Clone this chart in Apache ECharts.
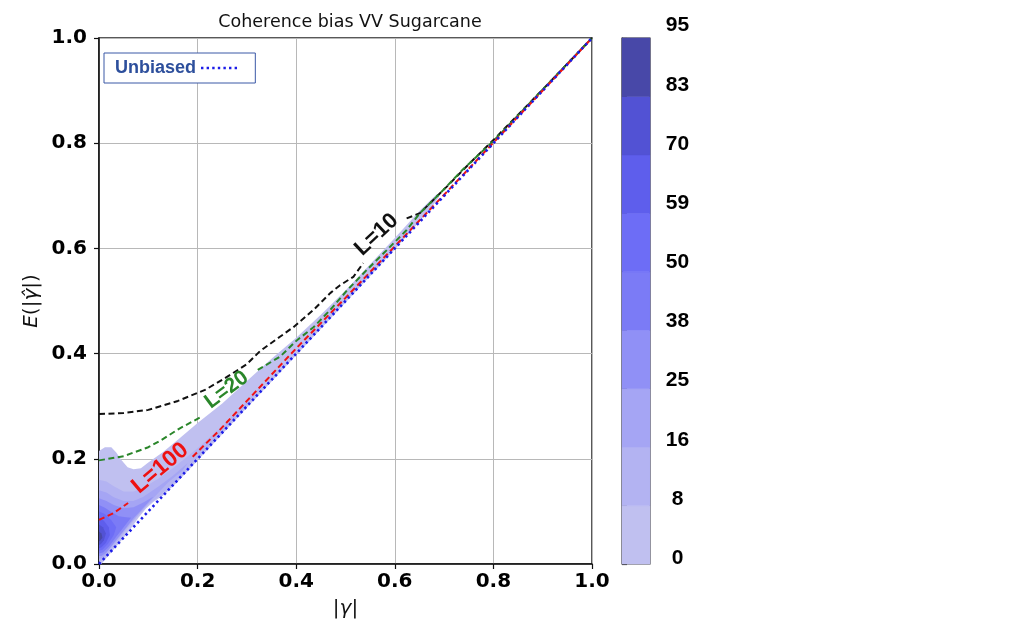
<!DOCTYPE html>
<html>
<head>
<meta charset="utf-8">
<script src="https://cdn.jsdelivr.net/npm/echarts@6/dist/echarts.min.js"></script>
<style>
html,body{margin:0;padding:0;background:#fff;}
#chart{width:1015px;height:624px;}
</style>
</head>
<body>
<div id="chart"></div>
<script>
// ---------- data ----------
var xTickLabels = ['0.0','0.2','0.4','0.6','0.8','1.0'];
var yTickLabels = ['0.0','0.2','0.4','0.6','0.8','1.0'];
var cbTickLabels = ['0','8','16','25','38','50','59','70','83','95'];
var cbColors = ['#c0c0f0','#b3b3f2','#a5a5f4','#9090f6','#7b7bf6','#6d6df6','#5e5eec','#5252d4','#4848a8'];

var unbiasedX = [0, 1];
var unbiasedY = [0, 1];

var l10X = [0,0.05,0.1,0.16,0.215,0.25,0.3,0.327,0.367,0.394,0.435,0.469,0.489,0.516,0.536,0.545,0.624,0.651,0.705,0.75,0.8,0.9,1.0];
var l10Y = [0.285,0.287,0.293,0.31,0.331,0.35,0.38,0.405,0.432,0.45,0.483,0.515,0.53,0.546,0.572,null,0.657,0.667,0.717,0.76,0.806,0.902,1.0];

var l20X = [0,0.05,0.1,0.127,0.164,0.208,0.26,0.322,0.367,0.401,0.435,0.469,0.503,0.543,0.584,0.624,0.651,0.692,0.738,0.8,0.9,1.0];
var l20Y = [0.197,0.205,0.222,0.236,0.258,0.28,null,0.369,0.394,0.425,0.45,0.483,0.52,0.559,0.597,0.635,0.667,0.705,0.75,0.804,0.902,1.0];

var l100X = [0,0.03,0.059,0.12,0.19,0.245,0.3,0.35,0.4,0.5,0.6,0.7,0.8,0.9,1.0];
var l100Y = [0.084,0.097,0.116,null,0.204,0.255,0.31,0.36,0.41,0.506,0.604,0.702,0.801,0.9,1.0];

var annText  = ['L=10','L=20','L=100'];
var annX     = [0.563, 0.259, 0.124];
var annY     = [0.626, 0.331, 0.182];

// density contour regions (data coordinates), lowest level first
var contourPolygons = [
 [[0,0],[0,0.215],[0.012,0.222],[0.025,0.222],[0.035,0.212],[0.045,0.198],[0.058,0.184],[0.07,0.18],[0.085,0.182],[0.1,0.193],[0.13,0.213],[0.16,0.236],[0.2,0.268],[0.25,0.305],[0.3,0.348],[0.35,0.39],[0.4,0.43],[0.45,0.474],[0.5,0.52],[0.55,0.57],[0.6,0.62],[0.65,0.671],[0.685,0.703],[0.69,0.698],[0.67,0.672],[0.6,0.598],[0.5,0.497],[0.4,0.397],[0.3,0.297],[0.2,0.197],[0.16,0.157],[0.13,0.13],[0.11,0.118],[0.095,0.105],[0.08,0.088],[0.065,0.068],[0.05,0.05],[0.03,0.028],[0.012,0.008],[0.005,0]],
 [[0,0.005],[0,0.16],[0.015,0.157],[0.03,0.148],[0.05,0.138],[0.07,0.138],[0.09,0.145],[0.12,0.162],[0.15,0.182],[0.2,0.22],[0.25,0.262],[0.3,0.31],[0.34,0.35],[0.3,0.302],[0.2,0.202],[0.15,0.153],[0.12,0.127],[0.1,0.113],[0.08,0.093],[0.06,0.07],[0.04,0.046],[0.02,0.022],[0.008,0.007]],
 [[0,0.01],[0,0.14],[0.015,0.136],[0.03,0.127],[0.05,0.12],[0.07,0.12],[0.09,0.128],[0.12,0.147],[0.15,0.168],[0.18,0.192],[0.17,0.178],[0.14,0.155],[0.11,0.125],[0.085,0.1],[0.06,0.073],[0.04,0.05],[0.02,0.027],[0.008,0.012]],
 [[0,0.015],[0,0.125],[0.015,0.12],[0.03,0.112],[0.05,0.106],[0.07,0.108],[0.09,0.117],[0.11,0.128],[0.09,0.107],[0.07,0.087],[0.05,0.063],[0.03,0.04],[0.015,0.022],[0.005,0.015]],
 [[0,0.02],[0,0.112],[0.012,0.107],[0.025,0.099],[0.04,0.091],[0.055,0.089],[0.065,0.088],[0.05,0.07],[0.035,0.052],[0.02,0.033],[0.008,0.022]],
 [[0,0.025],[0,0.1],[0.012,0.095],[0.025,0.083],[0.035,0.07],[0.03,0.055],[0.018,0.038],[0.007,0.027]],
 [[0,0.03],[0,0.088],[0.01,0.082],[0.02,0.07],[0.022,0.055],[0.014,0.04],[0.005,0.032]],
 [[0,0.036],[0,0.075],[0.008,0.07],[0.014,0.058],[0.01,0.045],[0.004,0.038]],
 [[0,0.043],[0,0.062],[0.005,0.058],[0.007,0.05],[0.003,0.045]]
];

// ---------- chart ----------
function zip(xs, ys){ return xs.map(function(x,i){ return [x, ys[i]===null ? '-' : ys[i]]; }); }

var chart = echarts.init(document.getElementById('chart'), null, {renderer:'canvas'});
var tickFont = {fontFamily:'DejaVu Sans', fontWeight:'bold', fontSize:20, color:'#000'};
var annColors = ['#111111','#2a862a','#ee1111'];
var annRot = [43, 37, 40];
var annSize = [22, 21, 23];

var option = {
  animation:false,
  backgroundColor:'#ffffff',
  title:{
    text:'Coherence bias VV Sugarcane',
    left:345, top:8, textAlign:'center',
    textStyle:{fontFamily:'DejaVu Sans', fontWeight:'normal', fontSize:17.5, color:'#111'}
  },
  legend:{
    data:[{name:'Unbiased', itemStyle:{opacity:0}}],
    left:104, top:53,
    align:'right',
    orient:'horizontal',
    padding:[6,17,6,11],
    borderColor:'#3a58a6', borderWidth:1, borderRadius:0,
    backgroundColor:'#fff',
    itemWidth:36, itemHeight:16,
    itemStyle:{opacity:0},
    lineStyle:{width:2.6},
    textStyle:{fontFamily:'Liberation Sans', fontWeight:'bold', fontSize:18, color:'#2d4f9c'},
    selectedMode:false
  },
  grid:[
    {left:99, top:38, width:493, height:526, show:true, borderColor:'#222', borderWidth:1.5, backgroundColor:'transparent'},
    {left:622, top:38, width:28, height:526, show:true, borderColor:'#333', borderWidth:1.2, backgroundColor:'transparent'},
    {left:622, top:25.7, width:28, height:532.3, show:false}
  ],
  xAxis:[
    {gridIndex:0, type:'value', min:0, max:1, interval:0.2,
     axisLine:{show:true, onZero:false, lineStyle:{color:'#111', width:1.5}},
     axisTick:{show:true, length:5, lineStyle:{color:'#111', width:1.2}},
     axisLabel:Object.assign({margin:8, formatter:function(v){return xTickLabels[Math.round(v/0.2)];}}, tickFont),
     splitLine:{show:true, lineStyle:{color:'#b8b8b8', width:1}},
     name:'|\u03b3|', nameLocation:'middle', nameGap:35,
     nameTextStyle:{fontFamily:'DejaVu Sans', fontStyle:'italic', fontSize:20, color:'#111'}
    },
    {gridIndex:1, type:'value', min:0, max:1, show:false},
    {gridIndex:2, type:'value', min:0, max:1, show:false}
  ],
  yAxis:[
    {gridIndex:0, type:'value', min:0, max:1, interval:0.2,
     axisLine:{show:true, onZero:false, lineStyle:{color:'#111', width:1.5}},
     axisTick:{show:true, length:5, lineStyle:{color:'#111', width:1.2}},
     axisLabel:Object.assign({margin:12, formatter:function(v){return yTickLabels[Math.round(v/0.2)];}}, tickFont),
     splitLine:{show:true, lineStyle:{color:'#b8b8b8', width:1}},
     name:'{i|E}{n|(|}{i|\u03b3\u0302}{n||)}', nameLocation:'middle', nameGap:57, nameRotate:90,
     nameTextStyle:{fontSize:20, color:'#111',
       rich:{i:{fontFamily:'DejaVu Sans', fontStyle:'italic', fontSize:20, color:'#111'},
             n:{fontFamily:'DejaVu Sans', fontSize:20, color:'#111'}}}
    },
    {gridIndex:1, type:'value', min:0, max:9, interval:1, position:'right',
     axisLine:{show:true, lineStyle:{color:'#333', width:1.2}},
     axisTick:{show:true, length:5, inside:false, lineStyle:{color:'#333', width:1.2}},
     axisLabel:{show:false}, splitLine:{show:false}
    },
    {gridIndex:2, type:'value', min:0, max:9, interval:1, position:'right',
     axisLine:{show:false}, axisTick:{show:false}, splitLine:{show:false},
     axisLabel:{show:true, margin:27.5, align:'center',
       formatter:function(v){return cbTickLabels[Math.round(v)];},
       fontFamily:'Liberation Sans', fontWeight:'bold', fontSize:21, color:'#000'}
    }
  ],
  series:[
    {type:'custom', name:'density', xAxisIndex:0, yAxisIndex:0, silent:true, clip:true, z:1,
     data: contourPolygons.map(function(p,i){return [i];}),
     renderItem:function(params, api){
       var i = api.value(0);
       var pts = contourPolygons[i].map(function(p){return api.coord(p);});
       return {type:'polygon', shape:{points:pts}, style:{fill:cbColors[i]}};
     }
    },
    {type:'custom', name:'colorbar', xAxisIndex:1, yAxisIndex:1, silent:true, z:1,
     data: cbColors.map(function(c,i){return [0,i];}),
     renderItem:function(params, api){
       var i = api.value(1);
       var p0 = api.coord([0,i]), p1 = api.coord([1,i+1]);
       return {type:'rect', shape:{x:p0[0], y:p1[1], width:p1[0]-p0[0], height:p0[1]-p1[1]}, style:{fill:cbColors[i], stroke:cbColors[i], lineWidth:0.5}};
     }
    },
    {type:'line', name:'L10', data:zip(l10X,l10Y), symbol:'none', connectNulls:false, z:3, silent:true,
     lineStyle:{color:'#111111', width:2, type:[6,3.5]}},
    {type:'line', name:'L20', data:zip(l20X,l20Y), symbol:'none', connectNulls:false, z:4, silent:true,
     lineStyle:{color:'#2a862a', width:2, type:[6,3.5]}},
    {type:'line', name:'L100', data:zip(l100X,l100Y), symbol:'none', connectNulls:false, z:5, silent:true,
     lineStyle:{color:'#f01414', width:2, type:[6,3.5]}},
    {type:'line', name:'Unbiased', data:zip(unbiasedX,unbiasedY), symbol:'none', z:6, silent:true,
     itemStyle:{color:'#1c1ce8'},
     lineStyle:{color:'#1c1ce8', width:2.6, type:[2.4,3.2]}},
    {type:'custom', name:'labels', xAxisIndex:0, yAxisIndex:0, z:7, silent:true, clip:false,
     data: annText.map(function(t,i){ return [annX[i], annY[i], i]; }),
     renderItem:function(params, api){
       var i = api.value(2);
       var p = api.coord([api.value(0), api.value(1)]);
       return {type:'text', x:p[0], y:p[1], rotation:annRot[i]*Math.PI/180,
         style:{text:annText[i], fill:annColors[i], align:'center', verticalAlign:'middle',
           font:'bold ' + annSize[i] + 'px "Liberation Sans", Arial, sans-serif'}};
     }
    }
  ]
};
chart.setOption(option);
</script>
</body>
</html>
